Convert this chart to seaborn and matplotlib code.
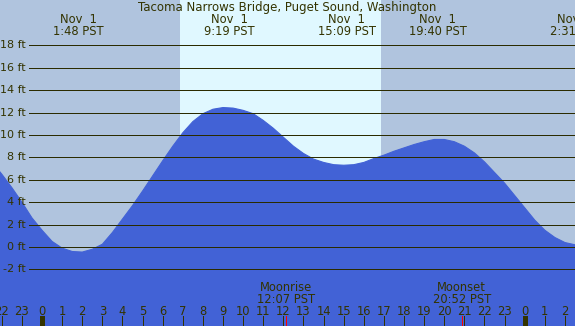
import numpy as np
import pandas as pd
import matplotlib.pyplot as plt
import seaborn as sns

# tide height (ft) every half hour, hours from midnight Nov 1
hours = [-2.5, -2.0, -1.5, -1.0, -0.5, 0.0, 0.5, 1.0, 1.5, 2.0, 2.5, 3.0, 3.5, 4.0,
         4.5, 5.0, 5.5, 6.0, 6.5, 7.0, 7.5, 8.0, 8.5, 9.0, 9.5, 10.0, 10.5, 11.0,
         11.5, 12.0, 12.5, 13.0, 13.5, 14.0, 14.5, 15.0, 15.5, 16.0, 16.5, 17.0,
         17.5, 18.0, 18.5, 19.0, 19.5, 20.0, 20.5, 21.0, 21.5, 22.0, 22.5, 23.0,
         23.5, 24.0, 24.5, 25.0, 25.5, 26.0, 26.5, 27.0]
height = [7.6, 6.5, 5.3, 4.0, 2.6, 1.5, 0.5, -0.1, -0.4, -0.45, -0.2, 0.25, 1.3, 2.5,
          3.7, 5.0, 6.35, 7.7, 9.0, 10.2, 11.2, 11.9, 12.3, 12.45, 12.4, 12.2, 11.9, 11.3,
          10.6, 9.8, 9.0, 8.35, 7.85, 7.55, 7.35, 7.3, 7.35, 7.55, 7.9, 8.2,
          8.55, 8.85, 9.15, 9.4, 9.6, 9.6, 9.4, 9.0, 8.4, 7.6, 6.65, 5.7,
          4.6, 3.5, 2.4, 1.5, 0.85, 0.4, 0.2, 0.15]

# highs / lows shown at the top
extreme_hours = [1.8, 9.317, 15.15, 19.667, 26.517]
extreme_labels = ['Nov  1\n1:48 PST', 'Nov  1\n9:19 PST', 'Nov  1\n15:09 PST',
                  'Nov  1\n19:40 PST', 'Nov  2\n2:31 PST']

sunrise, sunset = 6.86, 16.86
moon_hours = [12.117, 20.867]
moon_labels = ['Moonrise\n12:07 PST', 'Moonset\n20:52 PST']

gridlevels = [-2, 0, 2, 4, 6, 8, 10, 12, 14, 16, 18]
tick_hours = list(range(-2, 27))

title = 'Tacoma Narrows Bridge, Puget Sound, Washington'

txt = '#333300'
night = '#b0c4de'
day = '#e0f8ff'
water = '#4262d6'

sns.set_style('white')
plt.rcParams['font.family'] = ['DejaVu Sans']

df = pd.DataFrame({'hour': hours, 'ft': height})

fig = plt.figure(figsize=(5.75, 3.26), dpi=100)
ax = fig.add_axes([0, 0, 1, 1])
ax.set_facecolor(night)
ax.axvspan(sunrise, sunset, color=day, lw=0, zorder=0)

ax.fill_between(df['hour'], -20, df['ft'], color=water, lw=0, zorder=1)
sns.lineplot(data=df, x='hour', y='ft', ax=ax, color=water, lw=0.8, zorder=1)

for lv in gridlevels:
    ax.hlines(lv, -0.65, 27, color='#2b2b00', lw=0.72, zorder=2, antialiased=False)
    ax.text(-0.8, lv, f'{lv} ft', ha='right', va='center', fontsize=8, color=txt)

ax.set_xlim(-2.09, 26.5)
ax.set_ylim(-7.05, 22.05)

ax.text(0.5, 0.978, title, transform=ax.transAxes, ha='center', va='center',
        fontsize=8.5, color=txt)
for h, lab in zip(extreme_hours, extreme_labels):
    ax.text(h, 0.921, lab, transform=ax.get_xaxis_transform(), ha='center',
            va='center', fontsize=8.3, color=txt, linespacing=0.92)

for h, lab in zip(moon_hours, moon_labels):
    ax.text(h, 0.1, lab, transform=ax.get_xaxis_transform(), ha='center',
            va='center', fontsize=8.3, color=txt, linespacing=0.92)
    ax.vlines(h, 0, 0.03, transform=ax.get_xaxis_transform(), color='red', lw=0.72,
              zorder=3, antialiased=False)

for h in tick_hours:
    ax.text(h, 0.044, str(h % 24), transform=ax.get_xaxis_transform(), ha='center',
            va='center', fontsize=8.3, color=txt)
    ax.vlines(h, 0, 0.03, transform=ax.get_xaxis_transform(), color=txt,
              lw=2.2 if h % 24 == 0 else 0.72, zorder=3, antialiased=False)

ax.set_xticks([])
ax.set_yticks([])
for s in ax.spines.values():
    s.set_visible(False)
if ax.get_legend():
    ax.get_legend().remove()

fig.savefig('out.png', dpi=100)
